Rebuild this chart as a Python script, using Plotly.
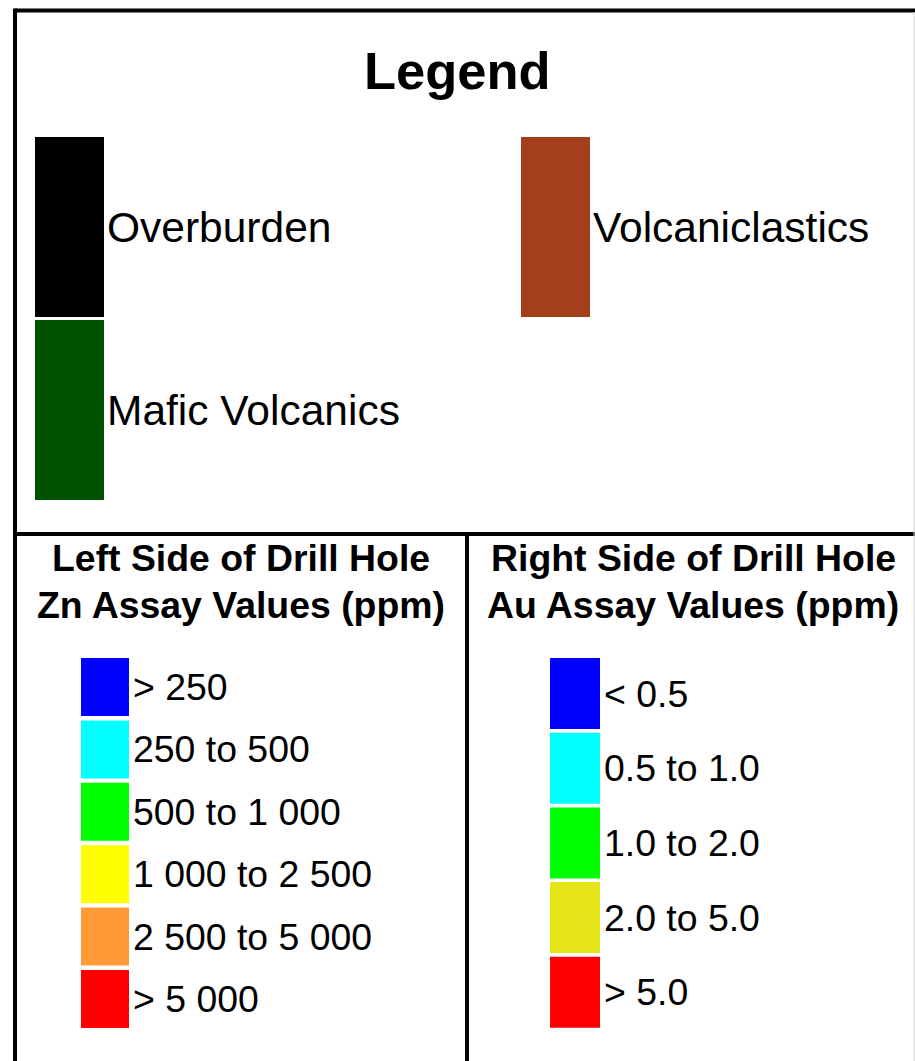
import plotly.graph_objects as go

W, H = 915, 1061
FONT = "Liberation Sans, Arial, Helvetica, sans-serif"

# rock units (column, row in the top box)
rock_units = ["Overburden", "Volcaniclastics", "Mafic Volcanics"]
rock_colors = ["#000000", "#A33F1A", "#005200"]
rock_cols = [0, 1, 0]
rock_rows = [0, 0, 1]

# left side of hole: Zn assays (ppm)
zn_labels = ["> 250", "250 to 500", "500 to 1 000", "1 000 to 2 500",
             "2 500 to 5 000", "> 5 000"]
zn_colors = ["#0000FF", "#00FFFF", "#00FF00", "#FFFF00", "#FF9A36", "#FF0000"]

# right side of hole: Au assays (ppm)
au_labels = ["< 0.5", "0.5 to 1.0", "1.0 to 2.0", "2.0 to 5.0", "> 5.0"]
au_colors = ["#0000FF", "#00FFFF", "#00FF00", "#E5E51A", "#FF0000"]


def main():
    fig = go.Figure()
    shapes = []
    notes = []

    def swatch(x0, y0, w, h, color, label, size, gap):
        shapes.append(dict(type="rect", xref="x", yref="y", x0=x0, x1=x0 + w,
                           y0=y0, y1=y0 + h, fillcolor=color,
                           line=dict(width=0), layer="above"))
        notes.append(dict(x=x0 + w + gap, y=y0 + h / 2, xref="x", yref="y",
                          text=label, showarrow=False, xanchor="left",
                          yanchor="middle",
                          font=dict(family=FONT, size=size, color="black")))

    # top box swatches
    for name, col, c, r in zip(rock_units, rock_colors, rock_cols, rock_rows):
        swatch([35, 521][c], 137 + r * 183, 69, 180, col, name, 42.5, 1)

    # Zn swatches
    for i, (lab, col) in enumerate(zip(zn_labels, zn_colors)):
        swatch(81, 658 + i * 62.4, 48, 58, col, lab, 37.4, 2)

    # Au swatches
    for i, (lab, col) in enumerate(zip(au_labels, au_colors)):
        swatch(550, 658 + i * 74.7, 50, 71, col, lab, 37.4, 2)

    # frame lines
    black = dict(color="black", width=4)
    shapes += [
        dict(type="line", xref="x", yref="y", x0=15, x1=W, y0=10.5, y1=10.5, line=black),
        dict(type="line", xref="x", yref="y", x0=15, x1=15, y0=8.5, y1=H, line=black),
        dict(type="line", xref="x", yref="y", x0=15, x1=W, y0=534, y1=534, line=black),
        dict(type="line", xref="x", yref="y", x0=467, x1=467, y0=534, y1=H, line=black),
        dict(type="line", xref="x", yref="y", x0=914, x1=914, y0=12, y1=H,
             line=dict(color="#d0d0d0", width=1)),
    ]

    # titles
    notes.append(dict(x=457, y=70, xref="x", yref="y", text="<b>Legend</b>",
                      showarrow=False, xanchor="center", yanchor="middle",
                      font=dict(family=FONT, size=52.5, color="black")))
    for cx, l1, l2 in [(241, "Left Side of Drill Hole", "Zn Assay Values (ppm)"),
                       (693, "Right Side of Drill Hole", "Au Assay Values (ppm)")]:
        for yy, t in [(558, l1), (605, l2)]:
            notes.append(dict(x=cx, y=yy, xref="x", yref="y", text="<b>" + t + "</b>",
                              showarrow=False, xanchor="center", yanchor="middle",
                              font=dict(family=FONT, size=37.4, color="black")))

    fig.update_layout(
        width=W, height=H,
        margin=dict(l=0, r=0, t=0, b=0),
        paper_bgcolor="white", plot_bgcolor="white",
        xaxis=dict(range=[0, W], visible=False, fixedrange=True),
        yaxis=dict(range=[H, 0], visible=False, fixedrange=True),
        shapes=shapes, annotations=notes, showlegend=False,
    )

    fig.write_html("out.html", config={"displayModeBar": False},
                   post_script="document.body.style.margin='0';")


if __name__ == "__main__":
    main()
